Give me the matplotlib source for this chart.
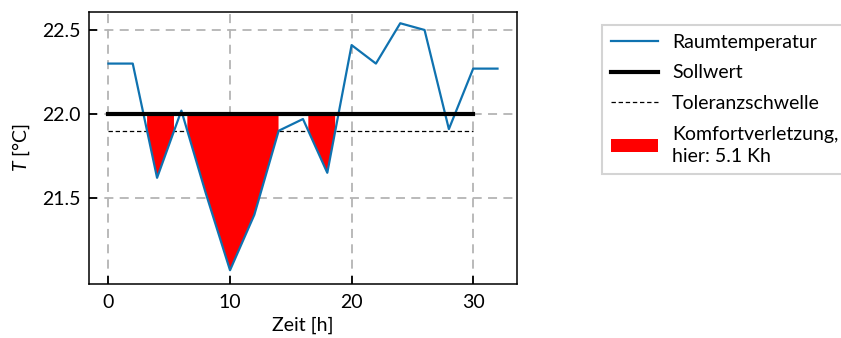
import numpy as np
import matplotlib
matplotlib.use("Agg")
import matplotlib.pyplot as plt
from matplotlib.patches import Patch
from matplotlib.lines import Line2D

plt.rcParams["font.family"] = ["Lato", "DejaVu Sans"]
plt.rcParams["mathtext.fontset"] = "custom"
plt.rcParams["mathtext.it"] = "Lato:italic"
plt.rcParams["mathtext.rm"] = "Lato"

# Room temperature in 2-hour steps
zeit = [0, 2, 4, 6, 8, 10, 12, 14, 16, 18, 20, 22, 24, 26, 28, 30, 32]
raumtemperatur = [22.30, 22.30, 21.62, 22.02, 21.53, 21.07, 21.40, 21.90, 21.97,
                  21.65, 22.41, 22.30, 22.54, 22.50, 21.91, 22.27, 22.27]
sollwert = 22.0
toleranz = 21.9
soll_bereich = [0, 30]

zeit = np.array(zeit, dtype=float)
raumtemperatur = np.array(raumtemperatur)

# fine grid for the comfort-violation area
t_fein = np.linspace(zeit[0], zeit[-1], 3201)
T_fein = np.interp(t_fein, zeit, raumtemperatur)
verletzt = T_fein < toleranz
dt = t_fein[1] - t_fein[0]
kelvinstunden = np.sum(np.where(verletzt, sollwert - T_fein, 0.0)) * dt

fig = plt.figure(figsize=(8.41, 3.38), dpi=100)
ax = fig.add_axes([0.1058, 0.1598, 0.5089, 0.8047])

blau = "#0f72b0"
fs = 14

ax.plot(soll_bereich, [toleranz, toleranz], color="black", lw=0.9,
        ls=(0, (3.5, 2.2)), zorder=2)
ax.fill_between(t_fein, T_fein, sollwert, where=verletzt, color="red",
                lw=0, zorder=3)
ax.plot(zeit, raumtemperatur, color=blau, lw=1.6, zorder=4)
ax.plot(soll_bereich, [sollwert, sollwert], color="black", lw=3, zorder=5,
        solid_capstyle="projecting")

ax.set_xlim(-1.6, 33.6)
ax.set_ylim(20.988, 22.607)
ax.set_xticks([0, 10, 20, 30])
ax.set_yticks([21.5, 22.0, 22.5])
ax.set_yticklabels(["21.5", "22.0", "22.5"])

ax.grid(True, color="#b4b4b4", lw=1.3, ls=(0, (5, 3.5)))
ax.set_axisbelow(True)
ax.tick_params(direction="in", length=6, width=1.3, labelsize=fs)
ax.tick_params(axis="x", pad=7)
ax.tick_params(axis="y", pad=6)
for s in ax.spines.values():
    s.set_linewidth(1.1)

ax.set_xlabel("Zeit [h]", fontsize=fs, labelpad=4)
ax.set_ylabel(r"$T$ [°C]", fontsize=fs, labelpad=7)

handles = [
    Line2D([], [], color=blau, lw=1.6),
    Line2D([], [], color="black", lw=3),
    Line2D([], [], color="black", lw=0.9, ls=(0, (3.5, 2.2))),
    Patch(facecolor="red", edgecolor="none"),
]
labels = [
    "Raumtemperatur",
    "Sollwert",
    "Toleranzschwelle",
    f"Komfortverletzung,\nhier: {kelvinstunden:.1f} Kh",
]
leg = fig.legend(handles, labels, loc="upper left",
                 bbox_to_anchor=(0.716, 0.926), borderaxespad=0, fontsize=fs,
                 handlelength=2.4, handletextpad=0.75, labelspacing=0.7,
                 fancybox=False, edgecolor="#d4d4d4", framealpha=1.0,
                 borderpad=0.45)
leg.get_frame().set_linewidth(1.5)
for txt in leg.get_texts():
    txt.set_linespacing(1.4)

fig.savefig("out.png", dpi=100)
